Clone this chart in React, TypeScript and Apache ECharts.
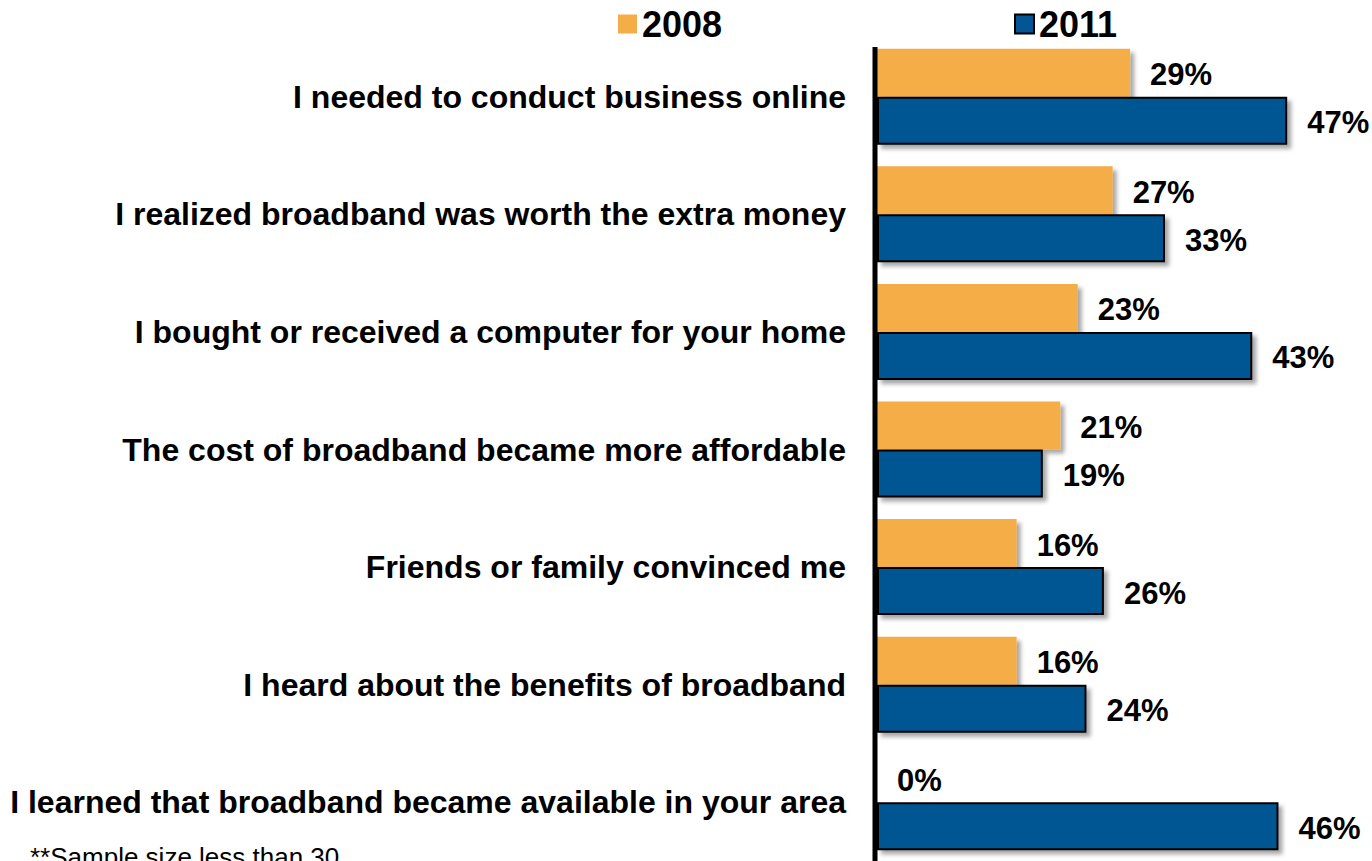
import React, { useEffect, useRef } from "react";
import * as echarts from "echarts";

const categories = [
  "I needed to conduct business online",
  "I realized broadband was worth the extra money",
  "I bought or received a computer for your home",
  "The cost of broadband became more affordable",
  "Friends or family convinced me",
  "I heard about the benefits of broadband",
  "I learned that broadband became available in your area",
];
const values2008 = [29, 27, 23, 21, 16, 16, 0];
const values2011 = [47, 33, 43, 19, 26, 24, 46];
const seriesNames = ["2008", "2011"];
const footnote = "**Sample size less than 30";

const FONT = "'Liberation Sans', Arial, Helvetica, sans-serif";
const ORANGE = "#F4AD47";
const BLUE = "#035693";

export default function App() {
  const ref = useRef<HTMLDivElement>(null);
  useEffect(() => {
    if (!ref.current) return;
    const chart = echarts.init(ref.current, undefined, { renderer: "svg" });
    const shadow = {
      shadowBlur: 4,
      shadowOffsetX: 4,
      shadowOffsetY: 4,
      shadowColor: "rgba(0,0,0,0.35)",
    };
    const labelStyle = {
      show: true,
      position: "right" as const,
      distance: 20,
      formatter: "{c}%",
      color: "#000",
      fontFamily: FONT,
      fontWeight: "bold" as const,
      fontSize: 31,
      offset: [0, 2],
    };
    const legendBase = {
      top: 1,
      icon: "rect",
      itemWidth: 19,
      itemHeight: 19,
      selectedMode: false,
      itemStyle: { shadowBlur: 0, shadowOffsetX: 0, shadowOffsetY: 0, shadowColor: "transparent" },
      textStyle: {
        fontFamily: FONT,
        fontWeight: "bold" as const,
        fontSize: 36,
        color: "#000",
        padding: [6, 0, 0, 0],
      },
    };
    chart.setOption({
      animation: false,
      backgroundColor: "#fff",
      legend: [
        { ...legendBase, left: 613, data: [seriesNames[0]] },
        { ...legendBase, left: 1009, data: [seriesNames[1]] },
      ],
      grid: { left: 877, right: 15, top: 38, height: 826, containLabel: false },
      xAxis: {
        type: "value",
        min: 0,
        max: 55,
        show: false,
      },
      yAxis: {
        type: "category",
        inverse: true,
        data: categories,
        axisLine: { show: false },
        axisTick: { show: false },
        axisLabel: {
          margin: 31,
          color: "#000",
          fontFamily: FONT,
          fontWeight: "bold",
          fontSize: 32,
        },
      },
      series: [
        {
          name: seriesNames[0],
          type: "bar",
          data: values2008,
          barWidth: 48,
          barGap: "0%",
          itemStyle: { color: ORANGE, ...shadow },
          label: labelStyle,
        },
        {
          name: seriesNames[1],
          type: "bar",
          data: values2011,
          barWidth: 48,
          barGap: "0%",
          itemStyle: { color: BLUE, borderColor: "#000", borderWidth: 2, ...shadow },
          label: labelStyle,
        },
      ],
      graphic: [
        {
          type: "line",
          z: 100,
          shape: { x1: 875, y1: 47, x2: 875, y2: 861 },
          style: { stroke: "#000", lineWidth: 5 },
        },
        {
          type: "text",
          left: 30,
          top: 844,
          style: {
            text: footnote,
            fontFamily: FONT,
            fontSize: 26,
            fill: "#000",
          },
        },
      ],
    });
    return () => chart.dispose();
  }, []);
  return (
    <div
      ref={ref}
      style={{ position: "fixed", left: 0, top: 0, width: 1372, height: 861 }}
    />
  );
}
